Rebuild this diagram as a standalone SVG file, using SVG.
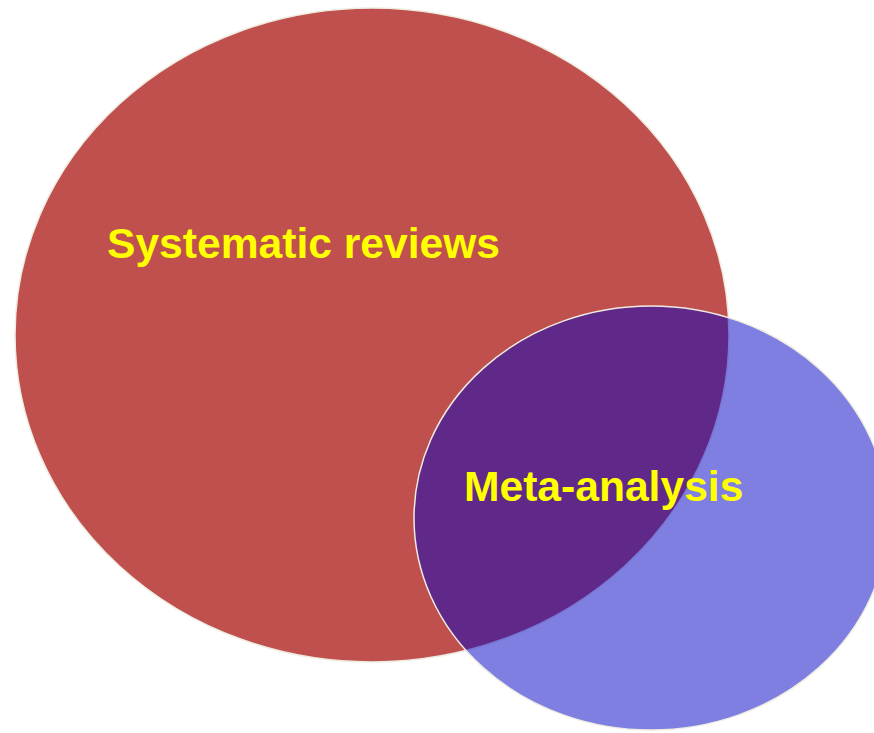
<svg xmlns="http://www.w3.org/2000/svg" width="874" height="733" viewBox="0 0 874 733">
<style>
.lbl{font-family:"Liberation Sans",Arial,sans-serif;font-weight:bold;font-size:42.6px;fill:#ffff00}
.edge{stroke:#eeece1;stroke-width:1.5}
</style>
<rect width="874" height="733" fill="#ffffff"/>
<g id="systematic-reviews">
<ellipse class="edge" cx="372" cy="335" rx="357" ry="327" fill="#c0504d"/>
</g>
<g id="meta-analysis">
<ellipse class="edge" cx="651" cy="518" rx="237" ry="212" fill="#0000c4" fill-opacity="0.5"/>
</g>
<g id="connectors"></g>
<g id="labels">
<text class="lbl" x="107" y="258">Systematic reviews</text>
<text class="lbl" x="464" y="501">Meta-analysis</text>
</g>
</svg>
